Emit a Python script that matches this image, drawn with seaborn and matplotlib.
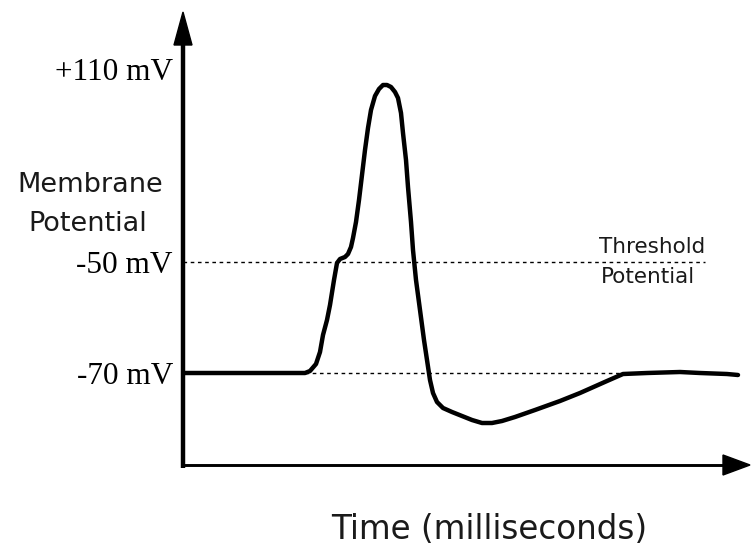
import matplotlib
matplotlib.use("Agg")
import matplotlib.pyplot as plt
import seaborn as sns
import pandas as pd
from matplotlib.patches import Polygon

# ---- data (schematic units: time offset, membrane level) ----
time_units = [0, 122, 127, 133, 137, 140, 144, 147, 151, 154, 157, 162, 165, 168,
              170, 173, 176, 179, 182, 185, 188, 192, 196, 200, 204, 208, 212, 215,
              218, 220, 223, 225, 228, 230, 233, 237, 241, 244, 247, 250, 254, 260,
              269, 279, 289, 299, 309, 319, 332, 352, 377, 397, 424, 440, 464, 497,
              517, 544, 555]
potential_level = [92, 92, 94, 101, 113, 130, 145, 160, 185, 202, 206, 208, 211, 218,
                   227, 243, 265, 290, 315, 337, 355, 369, 376, 380, 380, 378, 373, 367,
                   352, 332, 305, 278, 243, 215, 185, 155, 125, 105, 85, 72, 63, 57,
                   53, 49, 45, 42, 42, 44, 48, 55, 64, 72, 84, 91, 92, 93, 92, 91, 90]

tick_levels = [92, 203, 396]
tick_labels = ["-70 mV", "-50 mV", "+110 mV"]
threshold_level = 203
threshold_span = [0, 522]
resting_level = 92
resting_span = [122, 440]

W, H = 751, 548
sns.set_style("white")
plt.rcParams["font.family"] = ["DejaVu Sans"]

fig = plt.figure(figsize=(W / 100, H / 100), dpi=100)
ax = fig.add_axes([183 / W, 83 / H, 568 / W, 453 / H])
ax.set_xlim(0, 568)
ax.set_ylim(0, 453)

df = pd.DataFrame({"t": time_units, "v": potential_level})
sns.lineplot(data=df, x="t", y="v", estimator=None, sort=False, ax=ax,
             color="black", linewidth=3.2, solid_joinstyle="round", zorder=3)

ax.plot(threshold_span, [threshold_level] * 2, color="black", lw=1.0,
        linestyle=(0, (2.6, 2.6)), zorder=2)
ax.plot(resting_span, [resting_level] * 2, color="black", lw=1.0,
        linestyle=(0, (2.6, 2.6)), zorder=2)

for s in ax.spines.values():
    s.set_visible(False)
ax.set_xlabel("")
ax.set_ylabel("")
ax.set_xticks([])
ax.set_yticks(tick_levels)
ax.set_yticklabels(tick_labels, fontfamily="Liberation Serif", fontsize=22.5, color="black")
ax.tick_params(axis="y", length=0, pad=7.2)

# axes lines with arrowheads
hx = 9 / 568
hy = 10 / 453
ax.plot([0, 0], [-3 / 453, 1 - 33 / 453], transform=ax.transAxes, color="black",
        lw=3.2, clip_on=False, solid_capstyle="butt")
ax.add_patch(Polygon([[-hx, 1 - 33 / 453], [hx, 1 - 33 / 453], [0, 1]], closed=True,
                     transform=ax.transAxes, color="black", clip_on=False))
ax.plot([0, 540 / 568], [0, 0], transform=ax.transAxes, color="black",
        lw=2.1, clip_on=False, solid_capstyle="butt")
ax.add_patch(Polygon([[540 / 568, -hy], [540 / 568, hy], [567 / 568, 0]], closed=True,
                     transform=ax.transAxes, color="black", clip_on=False))

def ftext(x, y, s, size, ha="center"):
    fig.text(x / W, 1 - y / H, s, fontsize=size, ha=ha, va="baseline",
             color="#1a1a1a", family="DejaVu Sans")

ftext(90, 192, "Membrane", 19.5)
ftext(88, 231, "Potential", 19.5)
ftext(652, 253, "Threshold", 15.5)
ftext(648, 283, "Potential", 15.5)
ftext(489, 539, "Time (milliseconds)", 23.5)

fig.savefig("out.png", dpi=100)
